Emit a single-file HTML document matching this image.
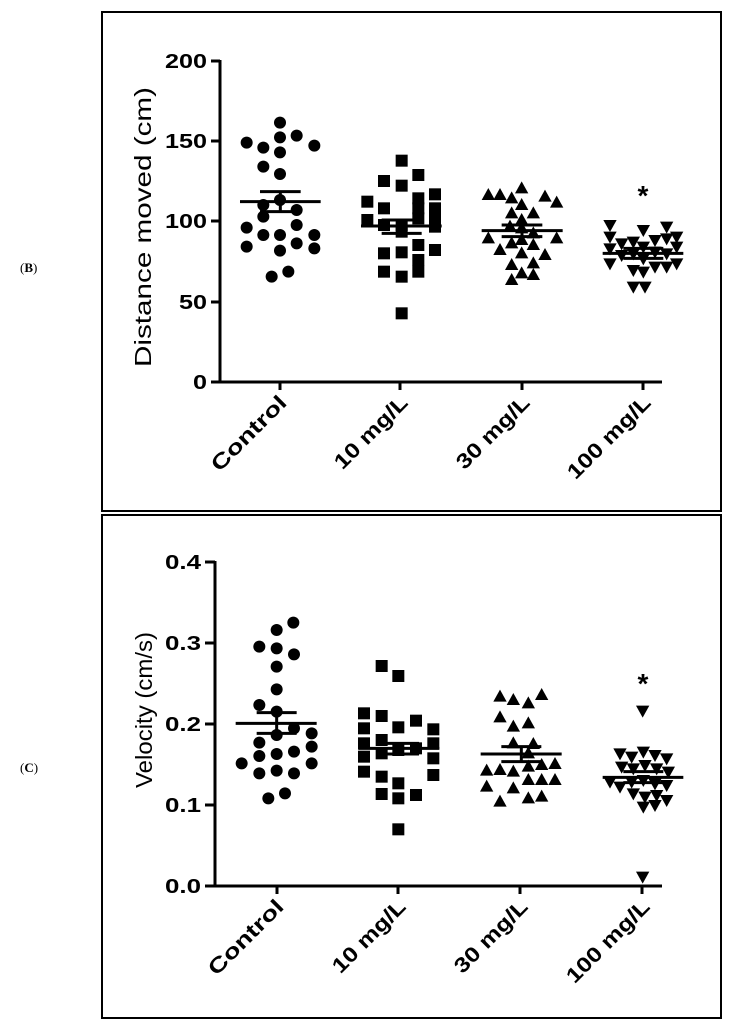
<!DOCTYPE html>
<html><head><meta charset="utf-8"><style>
html,body{margin:0;padding:0;background:#fff;}
svg{display:block;}
text{font-family:"Liberation Sans",Arial,sans-serif;font-weight:bold;fill:#000;}
</style></head><body>
<svg width="736" height="1029" viewBox="0 0 736 1029" xmlns="http://www.w3.org/2000/svg">
<defs>
<circle id="c" r="18"/>
<rect id="s" x="-18" y="-18" width="36" height="36"/>
<polygon id="t" points="0,-21 20,15 -20,15"/>
<polygon id="d" points="0,21 20,-15 -20,-15"/>
</defs>
<rect x="102" y="12" width="619" height="499" fill="none" stroke="#000" stroke-width="2"/>
<rect x="102" y="515" width="619" height="503" fill="none" stroke="#000" stroke-width="2"/>
<text x="20" y="272" style="font-family:'Liberation Serif',serif;font-weight:normal;font-size:13px">(<tspan font-weight="bold">B</tspan>)</text>
<text x="20" y="772" style="font-family:'Liberation Serif',serif;font-weight:normal;font-size:13px">(<tspan font-weight="bold">C</tspan>)</text>

<!-- Top axes -->
<g stroke="#000" stroke-width="3" fill="none">
<line x1="220" y1="60" x2="220" y2="383.5"/>
<line x1="218.5" y1="382" x2="662" y2="382"/>
<line x1="211" y1="61" x2="220" y2="61"/><line x1="211" y1="141" x2="220" y2="141"/><line x1="211" y1="221" x2="220" y2="221"/><line x1="211" y1="302" x2="220" y2="302"/><line x1="211" y1="382" x2="220" y2="382"/>
<line x1="280" y1="382" x2="280" y2="390"/><line x1="400" y1="382" x2="400" y2="390"/><line x1="522" y1="382" x2="522" y2="390"/><line x1="643" y1="382" x2="643" y2="390"/>
</g>
<g font-size="20" text-anchor="end">
<text x="207" y="68" textLength="42" lengthAdjust="spacingAndGlyphs">200</text><text x="207" y="148" textLength="42" lengthAdjust="spacingAndGlyphs">150</text><text x="207" y="228" textLength="42" lengthAdjust="spacingAndGlyphs">100</text><text x="207" y="309" textLength="28" lengthAdjust="spacingAndGlyphs">50</text><text x="207" y="389" textLength="14" lengthAdjust="spacingAndGlyphs">0</text>
</g>
<text transform="translate(151,227) rotate(-90)" text-anchor="middle" font-size="23" style="font-weight:normal" textLength="280" lengthAdjust="spacingAndGlyphs">Distance moved (cm)</text>
<g font-size="21" text-anchor="end">
<text transform="translate(288,404) rotate(-45)" textLength="97" lengthAdjust="spacingAndGlyphs">Control</text>
<text transform="translate(409,404) rotate(-45)" textLength="94" lengthAdjust="spacingAndGlyphs">10 mg/L</text>
<text transform="translate(531,404) rotate(-45)" textLength="94" lengthAdjust="spacingAndGlyphs">30 mg/L</text>
<text transform="translate(652,404) rotate(-45)" textLength="108" lengthAdjust="spacingAndGlyphs">100 mg/L</text>
</g>
<text x="643" y="205" font-size="28" text-anchor="middle">*</text>

<g transform="translate(200,100) scale(0.33333)">
<g>
<use href="#c" x="140" y="128"/><use href="#c" x="190" y="143"/><use href="#c" x="240" y="68"/><use href="#c" x="240" y="112"/><use href="#c" x="290" y="107"/><use href="#c" x="343" y="137"/><use href="#c" x="240" y="157"/><use href="#c" x="190" y="200"/><use href="#c" x="240" y="222"/><use href="#c" x="190" y="315"/><use href="#c" x="240" y="300"/><use href="#c" x="290" y="330"/><use href="#c" x="190" y="350"/><use href="#c" x="140" y="383"/><use href="#c" x="290" y="375"/><use href="#c" x="190" y="405"/><use href="#c" x="240" y="405"/><use href="#c" x="343" y="405"/><use href="#c" x="140" y="440"/><use href="#c" x="240" y="452"/><use href="#c" x="290" y="430"/><use href="#c" x="343" y="445"/><use href="#c" x="215" y="530"/><use href="#c" x="265" y="515"/>
<use href="#s" x="605" y="182"/><use href="#s" x="655" y="225"/><use href="#s" x="552" y="243"/><use href="#s" x="605" y="257"/><use href="#s" x="502" y="305"/><use href="#s" x="655" y="295"/><use href="#s" x="705" y="283"/><use href="#s" x="552" y="325"/><use href="#s" x="655" y="325"/><use href="#s" x="705" y="325"/><use href="#s" x="502" y="360"/><use href="#s" x="552" y="375"/><use href="#s" x="605" y="375"/><use href="#s" x="655" y="355"/><use href="#s" x="705" y="360"/><use href="#s" x="705" y="380"/><use href="#s" x="552" y="460"/><use href="#s" x="605" y="457"/><use href="#s" x="655" y="435"/><use href="#s" x="705" y="450"/><use href="#s" x="552" y="515"/><use href="#s" x="605" y="530"/><use href="#s" x="655" y="515"/><use href="#s" x="605" y="640"/><use href="#s" x="655" y="480"/><use href="#s" x="605" y="395"/>
<use href="#t" x="865" y="285"/><use href="#t" x="900" y="285"/><use href="#t" x="965" y="265"/><use href="#t" x="1035" y="290"/><use href="#t" x="1070" y="308"/><use href="#t" x="935" y="295"/><use href="#t" x="965" y="315"/><use href="#t" x="935" y="340"/><use href="#t" x="1000" y="340"/><use href="#t" x="965" y="360"/><use href="#t" x="930" y="380"/><use href="#t" x="965" y="385"/><use href="#t" x="1000" y="400"/><use href="#t" x="865" y="415"/><use href="#t" x="935" y="430"/><use href="#t" x="965" y="420"/><use href="#t" x="1000" y="435"/><use href="#t" x="1070" y="415"/><use href="#t" x="900" y="450"/><use href="#t" x="965" y="460"/><use href="#t" x="1035" y="465"/><use href="#t" x="935" y="495"/><use href="#t" x="1000" y="490"/><use href="#t" x="935" y="540"/><use href="#t" x="965" y="520"/><use href="#t" x="1000" y="525"/>
<use href="#d" x="1230" y="375"/><use href="#d" x="1230" y="410"/><use href="#d" x="1230" y="445"/><use href="#d" x="1230" y="490"/><use href="#d" x="1265" y="430"/><use href="#d" x="1265" y="465"/><use href="#d" x="1300" y="425"/><use href="#d" x="1300" y="460"/><use href="#d" x="1300" y="510"/><use href="#d" x="1300" y="560"/><use href="#d" x="1330" y="390"/><use href="#d" x="1330" y="440"/><use href="#d" x="1330" y="475"/><use href="#d" x="1335" y="560"/><use href="#d" x="1365" y="420"/><use href="#d" x="1365" y="455"/><use href="#d" x="1365" y="500"/><use href="#d" x="1400" y="380"/><use href="#d" x="1400" y="415"/><use href="#d" x="1400" y="460"/><use href="#d" x="1400" y="500"/><use href="#d" x="1430" y="410"/><use href="#d" x="1430" y="440"/><use href="#d" x="1430" y="490"/><use href="#d" x="1330" y="515"/>
</g>
<g stroke="#000" stroke-width="9">
<line x1="120" y1="305" x2="362" y2="305"/><line x1="180" y1="275" x2="302" y2="275"/><line x1="180" y1="335" x2="302" y2="335"/><line x1="241" y1="275" x2="241" y2="335"/>
<line x1="483" y1="378" x2="725" y2="378"/><line x1="545" y1="360" x2="665" y2="360"/><line x1="545" y1="400" x2="665" y2="400"/><line x1="605" y1="360" x2="605" y2="400"/>
<line x1="845" y1="392" x2="1088" y2="392"/><line x1="905" y1="375" x2="1027" y2="375"/><line x1="905" y1="410" x2="1027" y2="410"/><line x1="966" y1="375" x2="966" y2="410"/>
<line x1="1208" y1="460" x2="1450" y2="460"/><line x1="1270" y1="445" x2="1390" y2="445"/><line x1="1270" y1="475" x2="1390" y2="475"/>
</g>
</g>

<!-- Bottom axes -->
<g stroke="#000" stroke-width="3" fill="none">
<line x1="215" y1="561" x2="215" y2="887.5"/>
<line x1="213.5" y1="886" x2="662" y2="886"/>
<line x1="205" y1="562" x2="215" y2="562"/><line x1="205" y1="643" x2="215" y2="643"/><line x1="205" y1="724" x2="215" y2="724"/><line x1="205" y1="805" x2="215" y2="805"/><line x1="205" y1="886" x2="215" y2="886"/>
<line x1="277" y1="886" x2="277" y2="894"/><line x1="398" y1="886" x2="398" y2="894"/><line x1="520" y1="886" x2="520" y2="894"/><line x1="642" y1="886" x2="642" y2="894"/>
</g>
<g font-size="20" text-anchor="end">
<text x="201" y="569" textLength="36" lengthAdjust="spacingAndGlyphs">0.4</text><text x="201" y="650" textLength="36" lengthAdjust="spacingAndGlyphs">0.3</text><text x="201" y="731" textLength="36" lengthAdjust="spacingAndGlyphs">0.2</text><text x="201" y="812" textLength="36" lengthAdjust="spacingAndGlyphs">0.1</text><text x="201" y="893" textLength="36" lengthAdjust="spacingAndGlyphs">0.0</text>
</g>
<text transform="translate(152,710) rotate(-90)" text-anchor="middle" font-size="23" style="font-weight:normal" textLength="156" lengthAdjust="spacingAndGlyphs">Velocity (cm/s)</text>
<g font-size="21" text-anchor="end">
<text transform="translate(285,908) rotate(-45)" textLength="97" lengthAdjust="spacingAndGlyphs">Control</text>
<text transform="translate(407,908) rotate(-45)" textLength="94" lengthAdjust="spacingAndGlyphs">10 mg/L</text>
<text transform="translate(529,908) rotate(-45)" textLength="94" lengthAdjust="spacingAndGlyphs">30 mg/L</text>
<text transform="translate(651,908) rotate(-45)" textLength="108" lengthAdjust="spacingAndGlyphs">100 mg/L</text>
</g>
<text x="643" y="693" font-size="28" text-anchor="middle">*</text>

<g transform="translate(200,600) scale(0.33333)">
<g>
<use href="#c" x="280" y="68"/><use href="#c" x="230" y="90"/><use href="#c" x="178" y="140"/><use href="#c" x="230" y="145"/><use href="#c" x="282" y="163"/><use href="#c" x="230" y="200"/><use href="#c" x="230" y="268"/><use href="#c" x="178" y="315"/><use href="#c" x="230" y="335"/><use href="#c" x="282" y="385"/><use href="#c" x="230" y="405"/><use href="#c" x="335" y="400"/><use href="#c" x="178" y="428"/><use href="#c" x="282" y="455"/><use href="#c" x="335" y="440"/><use href="#c" x="178" y="468"/><use href="#c" x="230" y="462"/><use href="#c" x="125" y="490"/><use href="#c" x="335" y="490"/><use href="#c" x="178" y="520"/><use href="#c" x="230" y="512"/><use href="#c" x="282" y="520"/><use href="#c" x="205" y="595"/><use href="#c" x="255" y="580"/>
<use href="#s" x="545" y="198"/><use href="#s" x="595" y="228"/><use href="#s" x="492" y="340"/><use href="#s" x="545" y="348"/><use href="#s" x="648" y="362"/><use href="#s" x="595" y="382"/><use href="#s" x="492" y="385"/><use href="#s" x="700" y="388"/><use href="#s" x="492" y="430"/><use href="#s" x="545" y="420"/><use href="#s" x="595" y="450"/><use href="#s" x="648" y="445"/><use href="#s" x="700" y="430"/><use href="#s" x="492" y="470"/><use href="#s" x="545" y="460"/><use href="#s" x="700" y="475"/><use href="#s" x="492" y="515"/><use href="#s" x="545" y="530"/><use href="#s" x="700" y="525"/><use href="#s" x="595" y="550"/><use href="#s" x="545" y="582"/><use href="#s" x="595" y="595"/><use href="#s" x="648" y="585"/><use href="#s" x="595" y="688"/>
<use href="#t" x="900" y="290"/><use href="#t" x="940" y="300"/><use href="#t" x="985" y="310"/><use href="#t" x="1025" y="285"/><use href="#t" x="900" y="352"/><use href="#t" x="940" y="380"/><use href="#t" x="985" y="370"/><use href="#t" x="940" y="430"/><use href="#t" x="1000" y="432"/><use href="#t" x="985" y="460"/><use href="#t" x="900" y="510"/><use href="#t" x="940" y="515"/><use href="#t" x="985" y="500"/><use href="#t" x="1025" y="495"/><use href="#t" x="1065" y="492"/><use href="#t" x="860" y="512"/><use href="#t" x="860" y="560"/><use href="#t" x="940" y="565"/><use href="#t" x="985" y="540"/><use href="#t" x="1025" y="540"/><use href="#t" x="1065" y="540"/><use href="#t" x="900" y="605"/><use href="#t" x="985" y="595"/><use href="#t" x="1025" y="590"/>
<use href="#d" x="1328" y="332"/><use href="#d" x="1328" y="830"/>
<use href="#d" x="1260" y="460"/><use href="#d" x="1295" y="470"/><use href="#d" x="1330" y="455"/><use href="#d" x="1365" y="465"/><use href="#d" x="1400" y="475"/><use href="#d" x="1230" y="545"/><use href="#d" x="1260" y="560"/><use href="#d" x="1265" y="500"/><use href="#d" x="1300" y="505"/><use href="#d" x="1335" y="495"/><use href="#d" x="1370" y="505"/><use href="#d" x="1405" y="515"/><use href="#d" x="1295" y="545"/><use href="#d" x="1330" y="540"/><use href="#d" x="1365" y="550"/><use href="#d" x="1400" y="555"/><use href="#d" x="1300" y="580"/><use href="#d" x="1335" y="590"/><use href="#d" x="1370" y="585"/><use href="#d" x="1330" y="620"/><use href="#d" x="1365" y="615"/><use href="#d" x="1400" y="600"/>
</g>
<g stroke="#000" stroke-width="9">
<line x1="107" y1="370" x2="350" y2="370"/><line x1="170" y1="338" x2="290" y2="338"/><line x1="170" y1="400" x2="290" y2="400"/><line x1="230" y1="338" x2="230" y2="400"/>
<line x1="475" y1="445" x2="718" y2="445"/><line x1="535" y1="430" x2="657" y2="430"/><line x1="535" y1="462" x2="657" y2="462"/>
<line x1="842" y1="462" x2="1085" y2="462"/><line x1="904" y1="440" x2="1024" y2="440"/><line x1="904" y1="485" x2="1024" y2="485"/><line x1="964" y1="440" x2="964" y2="485"/>
<line x1="1208" y1="532" x2="1450" y2="532"/><line x1="1270" y1="515" x2="1390" y2="515"/><line x1="1270" y1="548" x2="1390" y2="548"/>
</g>
</g>
</svg>
</body></html>
